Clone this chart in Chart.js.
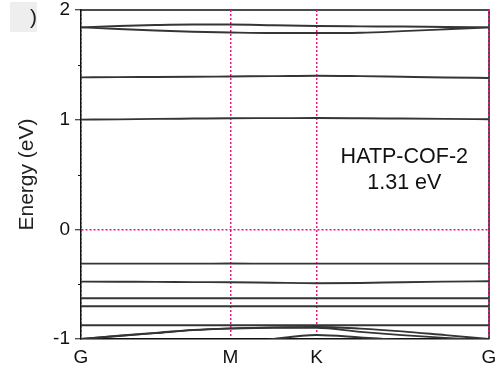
<!DOCTYPE html>
<html><head><meta charset="utf-8">
<script src="https://cdn.jsdelivr.net/npm/chart.js@4.4.0/dist/chart.umd.min.js"></script>
<style>html,body{margin:0;padding:0;background:#fff;}#wrap{position:relative;width:503px;height:386px;}</style>
</head><body><div id="wrap"><canvas id="c" width="503" height="386"></canvas></div>
<script>
// k-path tick positions (G-M-K-G, hexagonal path lengths)
const kLabels = ['G', 'M', 'K', 'G'];
const kTicks = [0, 1, 1.5774, 2.7321];
// sampling points along the path
const kPath = [0, 0.25, 0.5, 0.75, 1.0, 1.29, 1.5774, 1.87, 2.15, 2.44, 2.7321];
// energies (eV)
const cb1Upper = [1.842, 1.854, 1.863, 1.868, 1.868, 1.861, 1.854, 1.851, 1.849, 1.845, 1.842];
const cb1Lower = [1.842, 1.827, 1.813, 1.802, 1.795, 1.790, 1.790, 1.793, 1.807, 1.824, 1.842];
const cb2 = [1.386, 1.388, 1.389, 1.391, 1.394, 1.397, 1.401, 1.397, 1.391, 1.385, 1.380];
const cb3 = [1.000, 1.003, 1.007, 1.010, 1.013, 1.014, 1.015, 1.013, 1.010, 1.007, 1.004];
const vb1 = [-0.313, -0.313, -0.313, -0.313, -0.312, -0.313, -0.313, -0.313, -0.313, -0.313, -0.313];
const vb2 = [-0.477, -0.478, -0.479, -0.481, -0.482, -0.487, -0.491, -0.489, -0.482, -0.477, -0.473];
const vb3 = [-0.628, -0.628, -0.628, -0.628, -0.628, -0.628, -0.628, -0.628, -0.628, -0.628, -0.628];
const vb4 = [-0.701, -0.701, -0.701, -0.701, -0.701, -0.701, -0.701, -0.701, -0.701, -0.701, -0.701];
const vb5 = [-0.875, -0.875, -0.875, -0.875, -0.874, -0.874, -0.874, -0.874, -0.874, -0.874, -0.874];
const vb6 = [-1.000, -0.970, -0.944, -0.917, -0.903, -0.894, -0.890, -0.905, -0.930, -0.965, -1.000];
const vb7 = [-1.000, -0.972, -0.946, -0.919, -0.905, -0.897, -0.898, -0.935, -0.965, -0.990, -1.010];
const vb8 = [null, null, null, null, -1.060, -1.000, -0.963, -0.985, -1.010, -1.050, -1.070];
const bands = [cb1Upper, cb1Lower, cb2, cb3, vb1, vb2, vb3, vb4, vb5, vb6, vb7, vb8];
// y axis
const yMin = -1, yMax = 2, yStep = 0.5;
const annotation = ['HATP-COF-2', '1.31 eV'];
const annotationK = 2.165;
const annotationE = [0.66, 0.42];
const yTitle = 'Energy (eV)';

const PINK = '#e4198a';
const BAND = '#353535';
const FONT = '"Liberation Sans", Arial, sans-serif';

const datasets = bands.map(b => ({
  data: kPath.map((k, i) => ({x: k, y: b[i]})).filter(p => p.y !== null),
  borderColor: BAND,
  borderWidth: 1.9,
  pointRadius: 0,
  showLine: true,
  fill: false,
  cubicInterpolationMode: 'monotone'
}));

const extras = {
  id: 'extras',
  beforeDraw(chart) {
    const {ctx, chartArea: a} = chart;
    ctx.save();
    // panel label remnant
    ctx.fillStyle = '#eeeeee';
    ctx.fillRect(10, 2, 27, 30);
    ctx.fillStyle = '#222';
    ctx.font = '21px ' + FONT;
    ctx.textBaseline = 'middle';
    ctx.fillText(')', 30, 18);
    // top and right frame
    ctx.strokeStyle = '#111';
    ctx.lineWidth = 1.5;
    ctx.beginPath();
    ctx.moveTo(a.left, a.top); ctx.lineTo(a.right, a.top); ctx.lineTo(a.right, a.bottom);
    ctx.stroke();
    ctx.restore();
  },
  afterDraw(chart) {
    const {ctx, chartArea: a, scales} = chart;
    ctx.save();
    // minor y ticks
    ctx.strokeStyle = '#111';
    ctx.lineWidth = 1;
    for (let v = yMin; v <= yMax; v += yStep) {
      if (Number.isInteger(v)) continue;
      const y = Math.round(scales.y.getPixelForValue(v)) + 0.5;
      ctx.beginPath(); ctx.moveTo(a.left - 3, y); ctx.lineTo(a.left, y); ctx.stroke();
    }
    // annotation
    ctx.fillStyle = '#111';
    ctx.font = '21.5px ' + FONT;
    ctx.textAlign = 'center';
    ctx.textBaseline = 'middle';
    annotation.forEach((t, i) => {
      ctx.fillText(t, scales.x.getPixelForValue(annotationK), scales.y.getPixelForValue(annotationE[i]));
    });
    ctx.restore();
  }
};

new Chart(document.getElementById('c'), {
  type: 'line',
  data: {datasets},
  options: {
    responsive: false,
    animation: false,
    devicePixelRatio: 1,
    layout: {padding: {left: 0, right: 14, top: 10, bottom: 0}},
    plugins: {legend: {display: false}, tooltip: {enabled: false}},
    scales: {
      x: {
        type: 'linear', min: 0, max: kTicks[kTicks.length - 1],
        afterBuildTicks: s => { s.ticks = kTicks.map(v => ({value: v})); },
        afterFit: s => { s.height = 47; s.paddingLeft = 0; s.paddingRight = 0; },
        ticks: {
          callback: (v, i) => kLabels[i], autoSkip: false, maxRotation: 0,
          font: {family: FONT, size: 19}, color: '#111', padding: 7
        },
        grid: {color: PINK, lineWidth: 1.5, drawTicks: false},
        border: {display: true, color: '#111', width: 1.5, dash: [2, 2]}
      },
      y: {
        type: 'linear', min: yMin, max: yMax,
        afterFit: s => { s.width = 81; s.paddingTop = 0; s.paddingBottom = 0; },
        ticks: {
          stepSize: yStep,
          callback: v => Number.isInteger(v) ? String(v) : '',
          font: {family: FONT, size: 19}, color: '#111', padding: 5
        },
        grid: {
          color: c => (c.tick && c.tick.value === 0) ? PINK : 'rgba(0,0,0,0)',
          lineWidth: 1.5,
          tickLength: 6,
          tickWidth: 1,
          tickColor: c => (c.tick && Number.isInteger(c.tick.value)) ? '#111' : 'rgba(0,0,0,0)'
        },
        border: {display: true, color: '#111', width: 1.5, dash: [2, 2]},
        title: {display: true, text: yTitle, font: {family: FONT, size: 21}, color: '#222', padding: {top: 15, bottom: 0}}
      }
    }
  },
  plugins: [extras]
});
</script></body></html>
